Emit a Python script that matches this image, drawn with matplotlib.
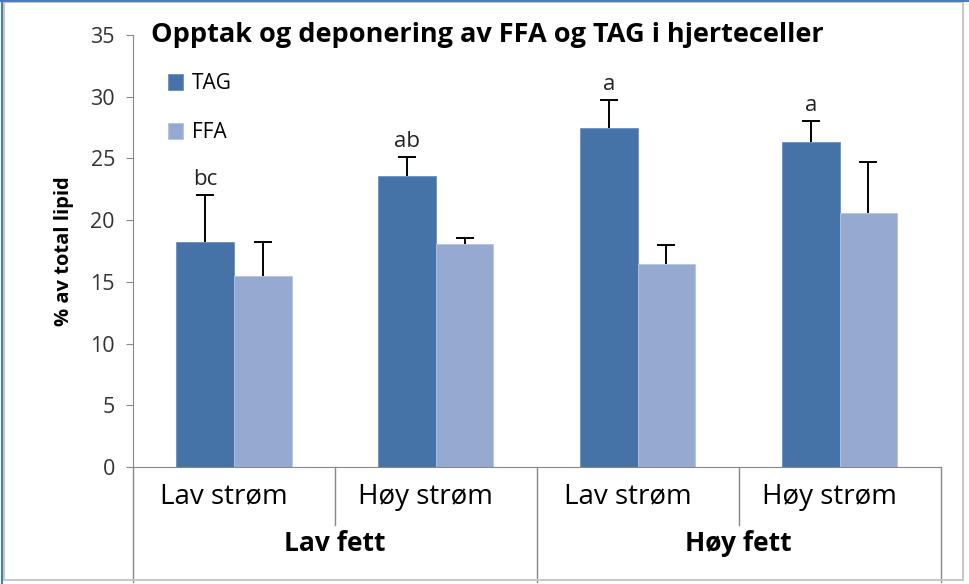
import matplotlib.pyplot as plt
import numpy as np
from matplotlib.patches import Rectangle

plt.rcParams['font.family'] = ['Open Sans', 'DejaVu Sans']

# data
sub_labels = ["Lav strøm", "Høy strøm", "Lav strøm", "Høy strøm"]
group_labels = ["Lav fett", "Høy fett"]
tag = [18.2, 23.6, 27.5, 26.3]
tag_err = [3.8, 1.5, 2.2, 1.7]
ffa = [15.5, 18.1, 16.45, 20.6]
ffa_err = [2.7, 0.45, 1.55, 4.1]
letters = ["bc", "ab", "a", "a"]

c_tag = '#4572A7'
c_ffa = '#96A9D0'

fig = plt.figure(figsize=(9.69, 5.84), dpi=100)
ax = fig.add_axes([0.1373, 0.2003, 0.8333, 0.7397])

x = np.arange(len(tag))
w = 0.285
ax.bar(x - w/2, tag, w, color=c_tag, edgecolor='#6a8fc0', linewidth=0.6, label='TAG')
ax.bar(x + w/2, ffa, w, color=c_ffa, edgecolor='#b5c4e2', linewidth=0.6, label='FFA')

# upward-only error bars
for xs, vals, errs in [(x - w/2, tag, tag_err), (x + w/2, ffa, ffa_err)]:
    tops = np.array(vals) + np.array(errs)
    ax.vlines(xs, vals, tops, color='black', linewidth=1.4)
    ax.plot(xs, tops, ls='none', marker='_', ms=13, mew=1.4, color='black')

for xi, t, e, l in zip(x, tag, tag_err, letters):
    ax.text(xi - w/2, t + e + 0.45, l, ha='center', va='bottom', fontsize=16, color='#222222')

ax.set_xlim(-0.5, 3.5)
ax.set_ylim(0, 35)
ax.set_yticks(range(0, 36, 5))
ax.tick_params(axis='y', labelsize=15.5, labelcolor='#333333', length=5, color='#888888', pad=8)
ax.set_xticks([])
for s in ['top', 'right']:
    ax.spines[s].set_visible(False)
ax.spines['left'].set_color('#888888')
ax.spines['bottom'].set_color('#888888')
ax.set_ylabel('% av total lipid', fontsize=14.5, fontweight='bold', labelpad=12)

# hierarchical category axis
for i, lab in enumerate(sub_labels):
    ax.text(i - 0.05, -2.4, lab, ha='center', va='center', fontsize=20, clip_on=False)
for j, lab in enumerate(group_labels):
    ax.text(2*j + 0.5, -6.2, lab, ha='center', va='center', fontsize=19, fontweight='bold', clip_on=False)
for xb, depth in [(-0.5, -9.3), (0.5, -4.7), (1.5, -9.3), (2.5, -4.7), (3.5, -9.3)]:
    ax.plot([xb, xb], [0, depth], color='#888888', linewidth=1, clip_on=False)

ax.legend(loc='upper left', bbox_to_anchor=(0.02, 0.955), frameon=False, fontsize=15,
          handlelength=0.7, handleheight=0.75, labelspacing=1.35, handletextpad=0.45)

fig.text(0.156, 0.94, 'Opptak og deponering av FFA og TAG i hjerteceller',
         fontsize=19.5, fontweight='bold', va='center', ha='left')

# chart area border
fig.patches.append(Rectangle((0.004, 0.006), 0.99, 0.99, transform=fig.transFigure,
                             fill=False, edgecolor='#c8c8c8', linewidth=1.5))
fig.lines.append(plt.Line2D([0.002, 0.002], [0.0, 1.0], transform=fig.transFigure,
                            color='#4a7ebb', linewidth=1.5))
fig.lines.append(plt.Line2D([0.0, 1.0], [0.998, 0.998], transform=fig.transFigure,
                            color='#4a7ebb', linewidth=1.5))

plt.savefig('out.png', dpi=100)
